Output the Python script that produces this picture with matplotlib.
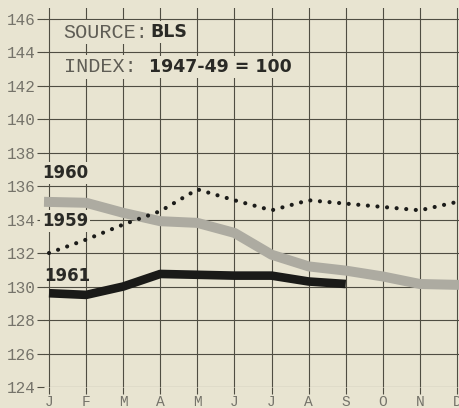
import matplotlib
matplotlib.use("Agg")
import matplotlib.pyplot as plt

# Consumer price index by month, 1947-49 = 100
months = ["J", "F", "M", "A", "M", "J", "J", "A", "S", "O", "N", "D"]
y_ticks = [124, 126, 128, 130, 132, 134, 136, 138, 140, 142, 144, 146]

idx_1960 = [135.05, 135.0, 134.4, 133.9, 133.8, 133.2, 131.9, 131.2, 130.95, 130.6, 130.15, 130.1]
idx_1959 = [132.0, 132.8, 133.7, 134.5, 135.8, 135.15, 134.55, 135.15, 134.95, 134.75, 134.55, 135.05]
idx_1961 = [129.6, 129.5, 130.0, 130.75, 130.7, 130.65, 130.65, 130.3, 130.15]

PAPER = "#e8e4d1"
GRID = "#4f4d42"
TICKC = "#75736a"

W, H = 460, 408
fig = plt.figure(figsize=(W / 100, H / 100), dpi=100, facecolor=PAPER)
ax = fig.add_axes([44 / W, 21 / H, (W - 44) / W, (H - 21 - 8.5) / H])
ax.set_facecolor(PAPER)

x_all = list(range(len(months)))
ax.set_xlim(-0.135, 11.08)
ax.set_ylim(124, 146.6)

for s in ax.spines.values():
    s.set_visible(False)

ax.set_xticks(x_all)
ax.set_xticklabels(months)
ax.set_yticks(y_ticks)
ax.set_yticklabels([str(v) for v in y_ticks])
ax.grid(True, color=GRID, lw=0.8)
ax.set_axisbelow(True)
ax.tick_params(axis="both", direction="out", length=5, width=0.8, color=GRID,
               labelcolor=TICKC)
ax.tick_params(axis="x", pad=1)
ax.tick_params(axis="y", pad=1)
for lab in ax.get_yticklabels():
    lab.set_fontfamily("Liberation Mono")
    lab.set_fontsize(11.5)
for lab in ax.get_xticklabels():
    lab.set_fontfamily("Liberation Mono")
    lab.set_fontsize(10.5)

# 1960: wide gray band
ax.plot(x_all, idx_1960, color="#adaba1", lw=7.2, solid_capstyle="projecting",
        solid_joinstyle="round", clip_on=False, zorder=3)
# 1959: dotted line
ax.plot(x_all, idx_1959, color="#1c1c1a", lw=3.0, dashes=(0.01, 2.3),
        dash_capstyle="round", clip_on=False, zorder=4)
# 1961: heavy black line through September
ax.plot(x_all[:len(idx_1961)], idx_1961, color="#1a1a18", lw=6.2,
        solid_capstyle="butt", solid_joinstyle="round", clip_on=False, zorder=5)

box = dict(boxstyle="square,pad=0.1", fc=PAPER, ec="none")
bold = dict(family="DejaVu Sans", weight="bold", color="#2a2a26")

def px_text(x, y, s, **kw):
    """Place text at pixel coordinates measured from the top-left corner."""
    return fig.text(x / W, 1 - y / H, s, **kw)

px_text(42, 173, "1960", fontsize=12, ha="left", va="center", bbox=box, zorder=6, **bold)
px_text(42, 221, "1959", fontsize=12, ha="left", va="center", bbox=box, zorder=6, **bold)
px_text(44, 276, "1961", fontsize=12, ha="left", va="center", zorder=6, **bold)

mono = dict(family="Liberation Mono", color="#5f5d55")
px_text(63, 32, "SOURCE:", fontsize=14.5, ha="left", va="center", bbox=box, **mono)
px_text(150, 32, "BLS", fontsize=12.5, ha="left", va="center", bbox=box, **bold)
px_text(64, 67, "INDEX:", fontsize=14.5, ha="left", va="center", bbox=box, **mono)
px_text(149, 67, "1947-49 = 100", fontsize=12.5, ha="left", va="center", bbox=box, **bold)

fig.savefig("out.png", dpi=100, facecolor=PAPER)
